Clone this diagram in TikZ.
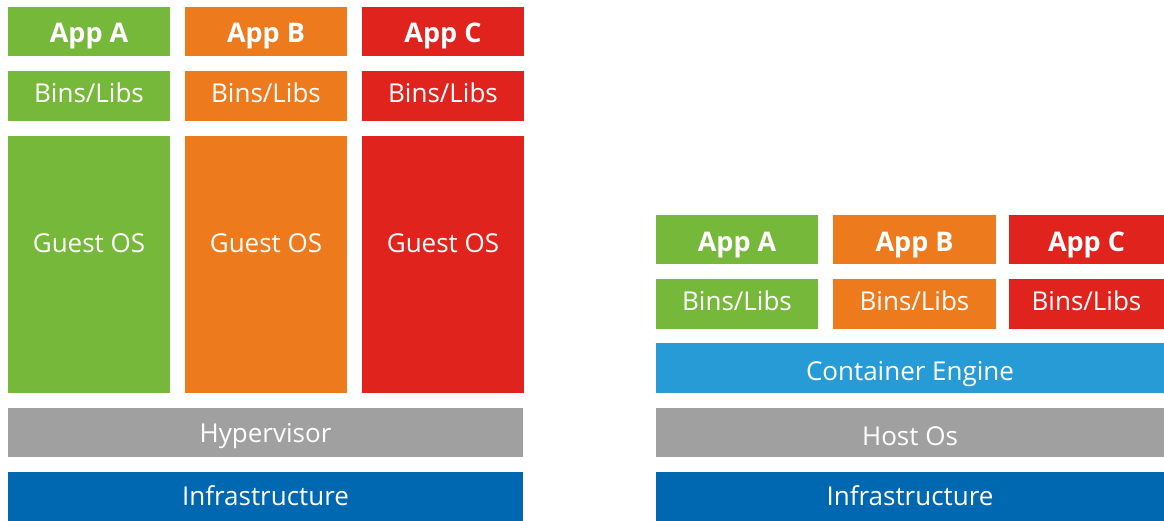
\documentclass[tikz,border=0pt]{standalone}
\usepackage{fontspec}
\setmainfont{Open Sans}
\definecolor{appgreen}{HTML}{76B83A}
\definecolor{apporange}{HTML}{EE7A1E}
\definecolor{appred}{HTML}{E0241D}
\definecolor{layergray}{HTML}{A0A0A0}
\definecolor{engineblue}{HTML}{279BD6}
\definecolor{infrablue}{HTML}{0067B1}
\tikzset{
  block/.style={rectangle, anchor=north west, inner sep=0pt, outer sep=0pt},
  lbl/.style={anchor=base, inner sep=0pt, text=white, font=\fontsize{26}{30}\selectfont},
  applbl/.style={lbl, font=\fontsize{27}{30}\selectfont\bfseries},
}
\begin{document}
\begin{tikzpicture}[x=1pt,y=-1pt]
\useasboundingbox[fill=white] (0,0) rectangle (1164,521);

% ---- virtual machines ----
\foreach \nm/\col/\x/\t in {a/appgreen/8/A, b/apporange/185/B, c/appred/362/C} {
  \node[block, fill=\col, minimum width=162pt, minimum height=49pt] (vmapp\nm) at (\x,7) {};
  \node[block, fill=\col, minimum width=162pt, minimum height=50pt] (vmbins\nm) at (\x,71) {};
  \node[block, fill=\col, minimum width=162pt, minimum height=257pt] (vmos\nm) at (\x,136) {};
  \node[applbl] (vmapptext\nm) at ({\x+81},43) {App \t};
  \node[lbl] (vmbinstext\nm) at ({\x+81},103) {Bins/Libs};
  \node[lbl] (vmostext\nm) at ({\x+81},253) {Guest OS};
}
\node[block, fill=layergray, minimum width=515pt, minimum height=49pt] (hyper) at (8,408) {};
\node[block, fill=infrablue, minimum width=515pt, minimum height=49pt] (vminfra) at (8,472) {};
\node[lbl] (hypertext) at (265.5,442) {Hypervisor};
\node[lbl] (vminfratext) at (265.5,505) {Infrastructure};

% ---- containers ----
\foreach \nm/\col/\x/\w/\t in {a/appgreen/656/162/A, b/apporange/833/163/B, c/appred/1009/155/C} {
  \node[block, fill=\col, minimum width=\w pt, minimum height=49pt] (ctapp\nm) at (\x,215) {};
  \node[block, fill=\col, minimum width=\w pt, minimum height=50pt] (ctbins\nm) at (\x,279) {};
  \node[applbl] (ctapptext\nm) at ({\x+\w/2},252) {App \t};
  \node[lbl] (ctbinstext\nm) at ({\x+\w/2},310) {Bins/Libs};
}
\node[block, fill=engineblue, minimum width=508pt, minimum height=50pt] (engine) at (656,343) {};
\node[block, fill=layergray, minimum width=508pt, minimum height=49pt] (hostos) at (656,408) {};
\node[block, fill=infrablue, minimum width=508pt, minimum height=49pt] (ctinfra) at (656,472) {};
\node[lbl] (enginetext) at (910,380) {Container Engine};
\node[lbl] (hostostext) at (910,445) {Host Os};
\node[lbl] (ctinfratext) at (910,505) {Infrastructure};
\end{tikzpicture}
\end{document}
